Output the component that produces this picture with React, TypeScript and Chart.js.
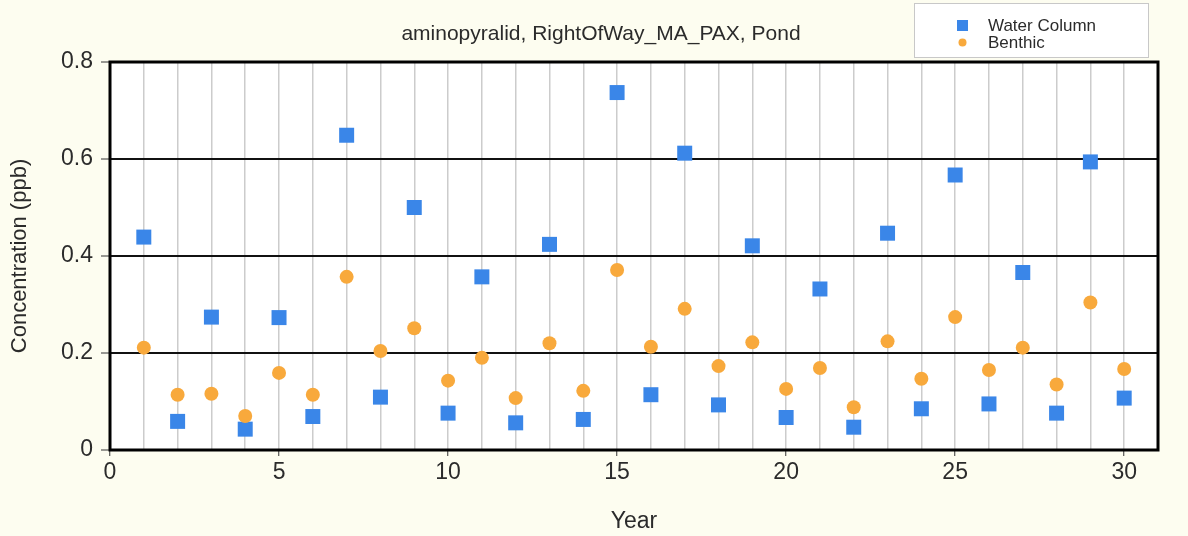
import React, { useEffect, useRef } from "react";
import { Chart, registerables } from "chart.js";

Chart.register(...registerables);

const years = [1,2,3,4,5,6,7,8,9,10,11,12,13,14,15,16,17,18,19,20,21,22,23,24,25,26,27,28,29,30];
const waterColumn = [0.439,0.059,0.274,0.043,0.273,0.069,0.649,0.109,0.500,0.076,0.357,0.056,0.424,0.063,0.737,0.114,0.612,0.093,0.421,0.067,0.332,0.047,0.447,0.085,0.567,0.095,0.366,0.076,0.594,0.107];
const benthic = [0.211,0.114,0.116,0.070,0.159,0.114,0.357,0.204,0.251,0.143,0.190,0.107,0.220,0.122,0.371,0.213,0.291,0.173,0.222,0.126,0.169,0.088,0.224,0.147,0.274,0.165,0.211,0.135,0.304,0.167];
const xTicks = [0,5,10,15,20,25,30];
const yTicks = [0,0.2,0.4,0.6,0.8];
const titleText = "aminopyralid, RightOfWay_MA_PAX, Pond";
const seriesNames = ["Water Column", "Benthic"];
const BLUE = "#3A86E8";
const ORANGE = "#F8A93C";
const TEXT = "#2b2b2b";
const FONT = "'Liberation Sans', Arial, sans-serif";

const decorPlugin = {
  id: "decor",
  beforeDraw(chart: any) {
    const { ctx, chartArea: a } = chart;
    ctx.save();
    ctx.fillStyle = "#FDFDF0";
    ctx.fillRect(0, 0, chart.width, chart.height);
    ctx.fillStyle = "#FFFFFF";
    ctx.fillRect(a.left, a.top, a.right - a.left, a.bottom - a.top);
    ctx.restore();
  },
  afterDraw(chart: any) {
    const { ctx, chartArea: a } = chart;
    ctx.save();
    // plot border
    ctx.strokeStyle = "#000";
    ctx.lineWidth = 3;
    ctx.strokeRect(a.left, a.top, a.right - a.left, a.bottom - a.top);
    // title
    ctx.fillStyle = TEXT;
    ctx.font = `21px ${FONT}`;
    ctx.textAlign = "center";
    ctx.textBaseline = "middle";
    ctx.fillText(titleText, 601, 34);
    // legend box
    ctx.fillStyle = "#FFFFFF";
    ctx.fillRect(914.5, 3.5, 234, 54);
    ctx.strokeStyle = "#C8C8C8";
    ctx.lineWidth = 1;
    ctx.strokeRect(914.5, 3.5, 234, 54);
    ctx.fillStyle = BLUE;
    ctx.fillRect(957, 20, 11, 11);
    ctx.fillStyle = ORANGE;
    ctx.beginPath();
    ctx.arc(962.5, 42.5, 4, 0, Math.PI * 2);
    ctx.fill();
    ctx.fillStyle = TEXT;
    ctx.font = `17px ${FONT}`;
    ctx.textAlign = "left";
    ctx.fillText(seriesNames[0], 988, 26);
    ctx.fillText(seriesNames[1], 988, 43);
    ctx.restore();
  },
};

export default function App() {
  const ref = useRef<HTMLCanvasElement | null>(null);
  useEffect(() => {
    if (!ref.current) return;
    const chart = new Chart(ref.current, {
      type: "scatter",
      data: {
        datasets: [
          {
            label: seriesNames[1],
            data: years.map((x, i) => ({ x, y: benthic[i] })),
            pointStyle: "circle",
            pointRadius: 7,
            pointHoverRadius: 7,
            backgroundColor: ORANGE,
            borderColor: ORANGE,
            borderWidth: 0,
          },
          {
            label: seriesNames[0],
            data: years.map((x, i) => ({ x, y: waterColumn[i] })),
            pointStyle: "rect",
            pointRadius: 10.6,
            pointHoverRadius: 10.6,
            backgroundColor: BLUE,
            borderColor: BLUE,
            borderWidth: 0,
          },
        ],
      },
      options: {
        animation: false,
        responsive: false,
        maintainAspectRatio: false,
        layout: { padding: { top: 62, right: 30, left: 0, bottom: 0 } },
        plugins: {
          legend: { display: false },
          title: { display: false },
          tooltip: { enabled: false },
        },
        scales: {
          x: {
            type: "linear",
            min: 0,
            max: 31,
            afterBuildTicks: (axis: any) => {
              const t = [];
              for (let v = 0; v <= 31; v++) t.push({ value: v });
              axis.ticks = t;
            },
            afterFit: (axis: any) => {
              axis.height = 86;
            },
            ticks: {
              autoSkip: false,
              maxRotation: 0,
              color: TEXT,
              font: { family: FONT, size: 23 },
              padding: 3,
              callback: (v: any) => (xTicks.includes(Number(v)) ? String(v) : ""),
            },
            grid: {
              color: (c: any) => {
                const v = c.tick ? c.tick.value : 0;
                return v === 0 || v === 31 ? "rgba(0,0,0,0)" : "#CCCCCC";
              },
              lineWidth: 1.5,
              tickLength: 6,
              tickColor: (c: any) => (c.tick && xTicks.includes(c.tick.value) ? "#333" : "rgba(0,0,0,0)"),
              tickWidth: 1,
            },
            border: { display: false },
            title: {
              display: true,
              text: "Year",
              color: TEXT,
              font: { family: FONT, size: 23 },
              padding: { top: 0, bottom: 1 },
            },
          },
          y: {
            type: "linear",
            min: 0,
            max: 0.8,
            afterBuildTicks: (axis: any) => {
              axis.ticks = yTicks.map((v) => ({ value: v }));
            },
            afterFit: (axis: any) => {
              axis.width = 110;
            },
            ticks: {
              color: TEXT,
              font: { family: FONT, size: 23 },
              padding: 8,
              callback: (v: any) => String(Number(v)),
            },
            grid: {
              color: (c: any) => {
                const v = c.tick ? c.tick.value : 0;
                return v === 0 || v === 0.8 ? "rgba(0,0,0,0)" : "#111111";
              },
              lineWidth: 2,
              tickLength: 9,
              tickColor: "#333",
              tickWidth: 1,
            },
            border: { display: false },
            title: {
              display: true,
              text: "Concentration (ppb)",
              color: TEXT,
              font: { family: FONT, size: 22 },
              padding: { top: 7, bottom: 0 },
            },
          },
        },
      },
      plugins: [decorPlugin],
    });
    return () => chart.destroy();
  }, []);
  return (
    <div style={{ position: "fixed", left: 0, top: 0, width: 1188, height: 536 }}>
      <canvas ref={ref} width={1188} height={536} style={{ display: "block", width: 1188, height: 536 }} />
    </div>
  );
}
